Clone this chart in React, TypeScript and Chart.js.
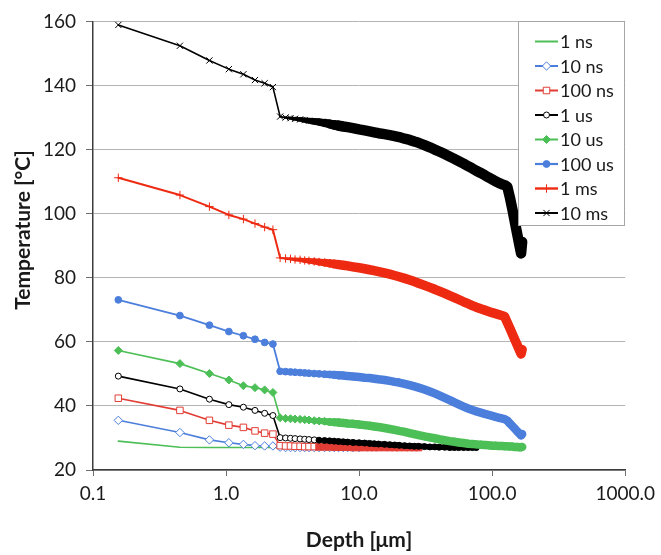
import React, { useEffect, useRef } from "react";
import { Chart, registerables } from "chart.js";

Chart.register(...registerables);

// Depth grid (µm)
const depthUm = [
  0.155, 0.45, 0.75, 1.05, 1.35, 1.65, 1.95, 2.25,
  2.55, 2.8, 3.05, 3.3, 3.6, 3.9, 4.2, 4.6, 5.0, 5.5, 6.0, 6.5, 7.0, 7.6, 8.2, 9.0,
  10, 11, 12, 13, 14, 15.5, 17, 18.5, 20, 22, 24, 26, 28, 31, 34, 37, 40, 44, 48, 52,
  56, 61, 66, 71, 76, 82, 88, 94, 100, 106, 112, 118, 124, 130, 136, 142, 148, 154,
  160, 165, 168,
];

const t1ns = [29.0, 27.1, 27.0, 27.0, 27.0, 27.0, 27.0, 27.0, 27.0, 27.0, 27.0, 27.0, 27.0, 27.0, 27.0, 27.0, 27.0];

const t10ns = [
  35.5, 31.7, 29.4, 28.5, 28.0, 27.6, 27.5, 27.5,
  27.1, 27.0, 27.0, 27.0, 27.0, 27.0, 27.0, 27.0, 27.0, 27.0, 27.0, 27.0, 27.0, 27.0, 27.0, 27.0, 27.0,
];

const t100ns = [
  42.4, 38.6, 35.5, 34.0, 33.3, 32.2, 31.5, 31.2,
  27.6, 27.5, 27.5, 27.4, 27.4, 27.3, 27.3, 27.3, 27.2, 27.2, 27.2, 27.1, 27.1, 27.1, 27.1,
  27.0, 27.0, 27.0, 27.0, 27.0, 27.0, 27.0, 27.0, 27.0, 27.0, 27.0, 27.0, 27.0, 27.0,
];

const t1us = [
  49.3, 45.3, 42.1, 40.4, 39.6, 38.6, 37.7, 37.0,
  30.1, 30.0, 29.9, 29.8, 29.7, 29.6, 29.5, 29.4, 29.3, 29.2, 29.1, 29.0, 28.9, 28.8, 28.7, 28.6,
  28.5, 28.4, 28.3, 28.2, 28.1, 28.0, 27.9, 27.8, 27.7, 27.6, 27.5, 27.4, 27.4, 27.3, 27.2, 27.2,
  27.1, 27.1, 27.0, 27.0, 27.0, 27.0, 27.0, 27.0, 27.0,
];

const t10us = [
  57.3, 53.2, 50.1, 48.1, 46.3, 45.7, 45.0, 44.2,
  36.3, 36.1, 36.0, 35.9, 35.8, 35.7, 35.6, 35.4, 35.3, 35.2, 35.0, 34.9, 34.8, 34.7, 34.5, 34.4,
  34.2, 34.0, 33.8, 33.6, 33.4, 33.1, 32.8, 32.5, 32.2, 31.9, 31.5, 31.2, 30.9, 30.5, 30.2, 29.9,
  29.6, 29.3, 29.0, 28.8, 28.6, 28.4, 28.2, 28.1, 28.0, 27.9, 27.8, 27.7, 27.6, 27.6, 27.5, 27.5,
  27.4, 27.4, 27.3, 27.3, 27.2, 27.2, 27.1, 27.1, 27.2,
];

const t100us = [
  73.1, 68.2, 65.2, 63.2, 61.9, 60.8, 59.8, 59.3,
  50.8, 50.7, 50.6, 50.5, 50.4, 50.3, 50.2, 50.1, 50.0, 49.9, 49.8, 49.7, 49.6, 49.5, 49.3, 49.2,
  49.0, 48.8, 48.7, 48.5, 48.3, 48.1, 47.8, 47.5, 47.3, 46.9, 46.5, 46.1, 45.7, 45.1, 44.5, 43.9,
  43.3, 42.5, 41.8, 41.1, 40.5, 39.8, 39.2, 38.7, 38.3, 37.9, 37.5, 37.2, 36.9, 36.6, 36.3, 36.1,
  35.9, 35.4, 34.5, 33.7, 32.9, 32.1, 31.4, 30.8, 31.2,
];

const t1ms = [
  111.2, 105.8, 102.2, 99.6, 98.3, 96.9, 95.8, 95.0,
  86.2, 86.0, 85.9, 85.7, 85.6, 85.4, 85.3, 85.1, 84.9, 84.7, 84.5, 84.3, 84.1, 83.9, 83.7, 83.4,
  83.1, 82.8, 82.5, 82.2, 81.9, 81.5, 81.1, 80.7, 80.3, 79.8, 79.3, 78.8, 78.3, 77.6, 77.0, 76.4,
  75.8, 75.1, 74.4, 73.8, 73.2, 72.5, 71.9, 71.3, 70.8, 70.3, 69.9, 69.5, 69.1, 68.8, 68.5, 68.2,
  67.9, 66.0, 64.2, 62.4, 60.7, 59.1, 57.5, 56.2, 57.6,
];

const t10ms = [
  158.9, 152.4, 147.8, 145.1, 143.5, 141.7, 140.7, 139.5,
  130.3, 130.0, 129.8, 129.6, 129.4, 129.2, 129.0, 128.8, 128.6, 128.3, 128.0, 127.7, 127.5, 127.2, 127.0, 126.7,
  126.3, 126.0, 125.7, 125.4, 125.1, 124.8, 124.5, 124.2, 123.9, 123.4, 123.0, 122.5, 122.1, 121.4, 120.7, 120.0,
  119.4, 118.6, 117.8, 117.1, 116.4, 115.6, 114.8, 114.1, 113.4, 112.7, 112.0, 111.3, 110.7, 110.1, 109.6, 109.2,
  108.9, 108.4, 105.0, 101.3, 97.5, 93.8, 90.3, 87.6, 91.2,
];

const seriesLabels = ["1 ns", "10 ns", "100 ns", "1 us", "10 us", "100 us", "1 ms", "10 ms"];
const seriesValues = [t1ns, t10ns, t100ns, t1us, t10us, t100us, t1ms, t10ms];

const xTickValues = [0.1, 1, 10, 100, 1000];
const xTickLabels = ["0.1", "1.0", "10.0", "100.0", "1000.0"];
const yMin = 20;
const yMax = 160;
const yStep = 20;
const xTitle = "Depth [μm]";
const yTitle = "Temperature [°C]";

const GREEN = "#4dbf57";
const BLUE = "#4c7fdc";
const RED1 = "#e23d35";
const RED2 = "#ee2a12";
const BLACK = "#000000";

type Style = {
  color: string;
  marker: string | null;
  r: number;
  fill: string;
  lw: number;
  band: number; // visual thickness of the densely-marked part
  solidFill: boolean; // open markers merge into a solid band
};

const styles: Style[] = [
  { color: GREEN, marker: null, r: 0, fill: GREEN, lw: 1.6, band: 1.6, solidFill: false },
  { color: BLUE, marker: "rectRot", r: 4.2, fill: "#ffffff", lw: 1.6, band: 1.6, solidFill: false },
  { color: RED1, marker: "rect", r: 4.6, fill: "#ffffff", lw: 1.6, band: 6, solidFill: true },
  { color: BLACK, marker: "circle", r: 3.0, fill: "#ffffff", lw: 1.6, band: 5.5, solidFill: true },
  { color: GREEN, marker: "rectRot", r: 4.0, fill: GREEN, lw: 1.6, band: 8.5, solidFill: false },
  { color: BLUE, marker: "circle", r: 3.4, fill: BLUE, lw: 1.8, band: 8.5, solidFill: false },
  { color: RED2, marker: "cross", r: 4.2, fill: RED2, lw: 2, band: 9.5, solidFill: false },
  { color: BLACK, marker: "crossRot", r: 4.4, fill: BLACK, lw: 1.6, band: 10.5, solidFill: false },
];

const FONT = "Lato, 'Open Sans', sans-serif";
const TEXT = "#1a1a1a";
const JUMP_DEPTH = 2.5;
const BAND_FULL_DEPTH = 7;

function bandWeight(depth: number) {
  if (depth < JUMP_DEPTH) return 0;
  const t = Math.log(depth / JUMP_DEPTH) / Math.log(BAND_FULL_DEPTH / JUMP_DEPTH);
  return Math.max(0, Math.min(1, t));
}

function drawMarker(ctx: CanvasRenderingContext2D, s: Style, x: number, y: number) {
  if (!s.marker) return;
  const r = s.r;
  ctx.save();
  ctx.strokeStyle = s.color;
  ctx.fillStyle = s.fill;
  ctx.lineWidth = 1;
  ctx.beginPath();
  if (s.marker === "circle") {
    ctx.arc(x, y, r, 0, Math.PI * 2);
    ctx.fill();
    ctx.stroke();
  } else if (s.marker === "rect") {
    const h = r * Math.SQRT1_2;
    ctx.rect(x - h, y - h, 2 * h, 2 * h);
    ctx.fill();
    ctx.stroke();
  } else if (s.marker === "rectRot") {
    ctx.moveTo(x, y - r);
    ctx.lineTo(x + r, y);
    ctx.lineTo(x, y + r);
    ctx.lineTo(x - r, y);
    ctx.closePath();
    ctx.fill();
    ctx.stroke();
  } else if (s.marker === "cross") {
    ctx.moveTo(x, y - r);
    ctx.lineTo(x, y + r);
    ctx.moveTo(x - r, y);
    ctx.lineTo(x + r, y);
    ctx.stroke();
  } else if (s.marker === "crossRot") {
    const d = r * Math.SQRT1_2;
    ctx.moveTo(x - d, y - d);
    ctx.lineTo(x + d, y + d);
    ctx.moveTo(x + d, y - d);
    ctx.lineTo(x - d, y + d);
    ctx.stroke();
  }
  ctx.restore();
}

const insideLegend = {
  id: "insideLegend",
  afterDraw(chart: any) {
    const ctx: CanvasRenderingContext2D = chart.ctx;
    const area = chart.chartArea;
    const right = Math.round(area.right);
    const left = right - 107;
    const top = Math.round(area.top);
    const height = 205;
    ctx.save();
    ctx.fillStyle = "#ffffff";
    ctx.fillRect(left, top, right - left, height);
    ctx.strokeStyle = "#a6a6a6";
    ctx.lineWidth = 1;
    ctx.strokeRect(left + 0.5, top + 0.5, right - left - 1, height - 1);
    ctx.font = `18px ${FONT}`;
    ctx.textBaseline = "middle";
    ctx.textAlign = "left";
    seriesLabels.forEach((label, i) => {
      const s = styles[i];
      const y = top + 20.5 + i * 24.5;
      const x0 = left + 17;
      const x1 = left + 40;
      ctx.strokeStyle = s.color;
      ctx.lineWidth = s.lw + 0.4;
      ctx.beginPath();
      ctx.moveTo(x0, y);
      ctx.lineTo(x1, y);
      ctx.stroke();
      drawMarker(ctx, s, (x0 + x1) / 2, y);
      ctx.fillStyle = TEXT;
      ctx.fillText(label, x1 + 2, y + 1);
    });
    ctx.restore();
  },
};

// y-axis title, placed like the reference (slightly above plot centre)
const yAxisTitle = {
  id: "yAxisTitle",
  afterDraw(chart: any) {
    const ctx: CanvasRenderingContext2D = chart.ctx;
    ctx.save();
    ctx.translate(23, 230);
    ctx.rotate(-Math.PI / 2);
    ctx.font = `bold 21px ${FONT}`;
    ctx.fillStyle = TEXT;
    ctx.textAlign = "center";
    ctx.textBaseline = "middle";
    ctx.fillText(yTitle, 0, 0);
    ctx.restore();
  },
};

export default function App() {
  const canvasRef = useRef<HTMLCanvasElement | null>(null);

  useEffect(() => {
    if (!canvasRef.current) return;
    const datasets = seriesValues.map((vals, i) => {
      const s = styles[i];
      return {
        label: seriesLabels[i],
        data: vals.map((v, j) => ({ x: depthUm[j], y: v })),
        borderColor: s.color,
        backgroundColor: s.fill,
        borderWidth: s.lw,
        borderJoinStyle: "round",
        borderCapStyle: "round",
        segment: {
          borderWidth: (c: any) => {
            const d = depthUm[c.p0DataIndex];
            return s.lw + (s.band - s.lw) * bandWeight(d);
          },
        },
        pointStyle: (s.marker || "circle") as any,
        pointRadius: s.marker ? s.r : 0,
        pointBorderWidth: 1,
        pointBorderColor: s.color,
        pointBackgroundColor: (c: any) =>
          s.solidFill && bandWeight(depthUm[c.dataIndex]) > 0.6 ? s.color : s.fill,
        tension: 0,
        fill: false,
        clip: false as any,
        order: -i,
      };
    });

    const chart = new Chart(canvasRef.current, {
      type: "line",
      data: { datasets },
      plugins: [insideLegend, yAxisTitle],
      options: {
        animation: false,
        responsive: true,
        maintainAspectRatio: false,
        events: [],
        layout: { padding: { left: 0, right: 34, top: 13, bottom: 0 } },
        plugins: {
          legend: { display: false },
          tooltip: { enabled: false },
        },
        scales: {
          x: {
            type: "logarithmic",
            min: 0.1,
            max: 1000,
            afterBuildTicks: (scale: any) => {
              scale.ticks = xTickValues.map((v) => ({ value: v }));
            },
            afterFit: (scale: any) => {
              scale.height = 85;
            },
            ticks: {
              autoSkip: false,
              maxRotation: 0,
              padding: 6,
              color: TEXT,
              font: { family: FONT, size: 19 },
              callback: (_v: any, i: number) => xTickLabels[i] ?? "",
            },
            grid: {
              drawOnChartArea: false,
              drawTicks: true,
              tickLength: 6,
              tickColor: "#6e6e6e",
            },
            border: { display: true, color: "#3c3c3c", width: 1.5 },
            title: {
              display: true,
              text: xTitle,
              color: TEXT,
              font: { family: FONT, size: 21, weight: "bold" },
              padding: { top: 0, bottom: 2 },
            },
          },
          y: {
            min: yMin,
            max: yMax,
            afterFit: (scale: any) => {
              scale.width = 93;
            },
            ticks: {
              stepSize: yStep,
              padding: 10,
              color: TEXT,
              font: { family: FONT, size: 19 },
            },
            grid: {
              color: "#b5b5b5",
              lineWidth: 1,
              drawTicks: true,
              tickLength: 7,
              tickColor: "#6e6e6e",
            },
            border: { display: true, color: "#3c3c3c", width: 1.5 },
            title: { display: false },
          },
        },
      } as any,
    });
    return () => chart.destroy();
  }, []);

  return (
    <div style={{ position: "fixed", left: 0, top: 0, width: 661, height: 555, background: "#ffffff" }}>
      <canvas ref={canvasRef} />
    </div>
  );
}
